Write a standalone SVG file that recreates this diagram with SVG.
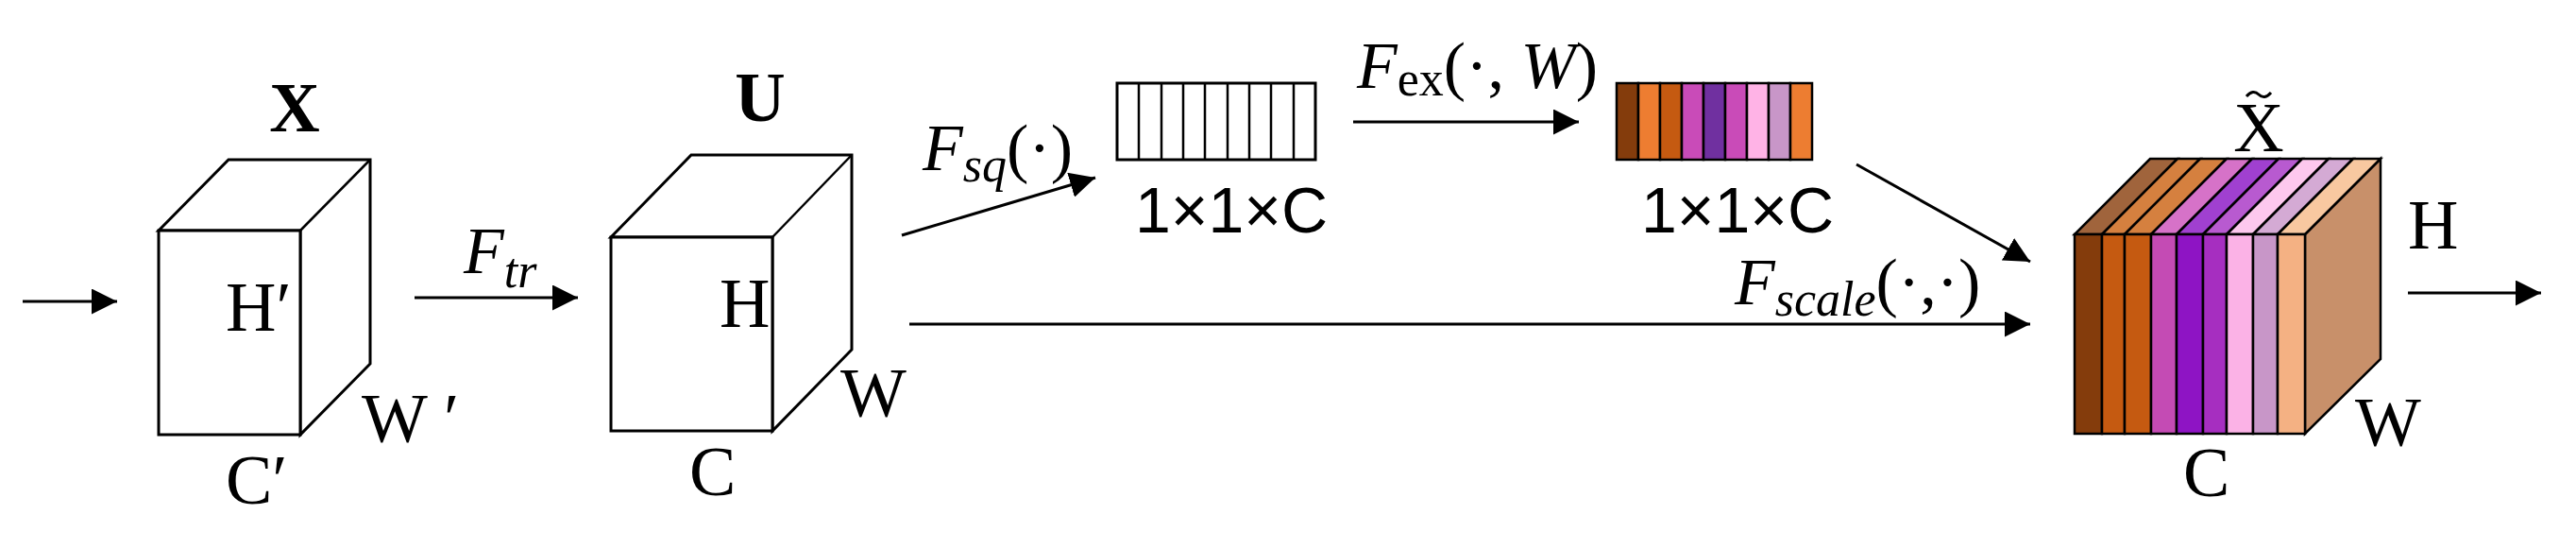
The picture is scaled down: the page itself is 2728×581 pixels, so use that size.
<svg xmlns="http://www.w3.org/2000/svg" width="2728" height="581" viewBox="0 0 2728 581">
<style>
.e{fill:#fff;stroke:#000;stroke-width:3}
.c{stroke:#000;stroke-width:3;fill:none}
.s{stroke:#000;stroke-width:2.5}
.t{font-family:"Liberation Serif",serif;font-size:74px;fill:#000}
.m{font-family:"Liberation Serif",serif;font-style:italic;fill:#000}
.n{font-family:"Liberation Sans",sans-serif;font-size:68px;fill:#000}
</style>
<defs>
<marker id="ah" viewBox="0 0 10 10" refX="10" refY="5" markerWidth="9" markerHeight="9" orient="auto"><path d="M0,0L10,5L0,10z"/></marker>
</defs>
<g id="connectors" class="c">
<line x1="24" y1="319" x2="124" y2="319" marker-end="url(#ah)"/>
<line x1="439" y1="315" x2="612" y2="315" marker-end="url(#ah)"/>
<line x1="955" y1="249" x2="1160" y2="188" marker-end="url(#ah)"/>
<line x1="1433" y1="129" x2="1672" y2="129" marker-end="url(#ah)"/>
<line x1="1966" y1="174" x2="2150" y2="277" marker-end="url(#ah)"/>
<line x1="963" y1="343" x2="2150" y2="343" marker-end="url(#ah)"/>
<line x1="2550" y1="310" x2="2691" y2="310" marker-end="url(#ah)"/>
</g>
<g id="labels">
<text class="m" x="491" y="289" font-size="70">F<tspan font-size="52" dy="15">tr</tspan></text>
<text class="m" x="977" y="180" font-size="70">F<tspan font-size="52" dy="12">sq</tspan><tspan font-style="normal" dy="-12">(·)</tspan></text>
<text class="m" x="1437" y="93" font-size="70">F<tspan font-style="normal" font-size="52" dy="8">ex</tspan><tspan font-style="normal" dy="-8">(·, </tspan>W<tspan font-style="normal">)</tspan></text>
<text class="m" x="1837" y="322" font-size="70">F<tspan font-size="52" dy="12">scale</tspan><tspan font-style="normal" dy="-12">(·,·)</tspan></text>
</g>
<g id="nodeX">
<polygon class="e" points="168,244 242,169 392,169 392,385 318,460 318,244"/>
<line class="s" x1="318" y1="244" x2="392" y2="169"/>
<rect class="e" x="168" y="244" width="150" height="216"/>
<text class="t" x="312" y="139" text-anchor="middle" font-weight="bold" font-size="62">X</text>
<text class="t" x="239" y="350">H′</text>
<text class="t" x="383" y="468">W ′</text>
<text class="t" x="239" y="533">C′</text>
</g>
<g id="nodeU">
<polygon class="e" points="647,251 732,164 902,164 902,370 818,456 818,251"/>
<line class="s" x1="818" y1="251" x2="902" y2="164"/>
<rect class="e" x="647" y="251" width="171" height="205"/>
<text class="t" x="805" y="128" text-anchor="middle" font-weight="bold" font-size="62">U</text>
<text class="t" x="762" y="346">H</text>
<text class="t" x="890" y="441">W</text>
<text class="t" x="730" y="524">C</text>
</g>
<g id="squeeze">
<rect class="e" x="1183" y="88" width="210" height="81"/>
<g class="s">
<line x1="1206" y1="88" x2="1206" y2="169"/><line x1="1230" y1="88" x2="1230" y2="169"/><line x1="1253" y1="88" x2="1253" y2="169"/><line x1="1276" y1="88" x2="1276" y2="169"/><line x1="1300" y1="88" x2="1300" y2="169"/><line x1="1323" y1="88" x2="1323" y2="169"/><line x1="1346" y1="88" x2="1346" y2="169"/><line x1="1370" y1="88" x2="1370" y2="169"/>
</g>
<text class="n" x="1202" y="246">1×1×C</text>
</g>
<g id="excite" stroke="#000" stroke-width="2.5">
<rect x="1712" y="88" width="23" height="81" fill="#843c0c"/>
<rect x="1735" y="88" width="23" height="81" fill="#ed7d31"/>
<rect x="1758" y="88" width="23" height="81" fill="#c55a11"/>
<rect x="1781" y="88" width="23" height="81" fill="#c94bb8"/>
<rect x="1804" y="88" width="23" height="81" fill="#7030a0"/>
<rect x="1827" y="88" width="23" height="81" fill="#c94bb8"/>
<rect x="1850" y="88" width="23" height="81" fill="#ffb3e6"/>
<rect x="1873" y="88" width="23" height="81" fill="#c896c8"/>
<rect x="1896" y="88" width="23" height="81" fill="#ed7d31"/>
<text class="n" x="1738" y="246" stroke="none">1×1×C</text>
</g>
<g id="nodeXt" stroke="#000" stroke-width="2.5">
<polygon points="2441,248 2521,168 2521,380 2441,459" fill="#c8906a"/>
<polygon points="2197,248 2226,248 2306,168 2277,168" fill="#a0643c"/>
<polygon points="2226,248 2250,248 2330,168 2306,168" fill="#d5803f"/>
<polygon points="2250,248 2278,248 2358,168 2330,168" fill="#d5803f"/>
<polygon points="2278,248 2305,248 2385,168 2358,168" fill="#d672c8"/>
<polygon points="2305,248 2333,248 2413,168 2385,168" fill="#a040d0"/>
<polygon points="2333,248 2358,248 2438,168 2413,168" fill="#b85ad0"/>
<polygon points="2358,248 2386,248 2466,168 2438,168" fill="#fdc8ee"/>
<polygon points="2386,248 2412,248 2492,168 2466,168" fill="#d4aad4"/>
<polygon points="2412,248 2441,248 2521,168 2492,168" fill="#f8c8a0"/>
<rect x="2197" y="248" width="29" height="211" fill="#843c0c"/>
<rect x="2226" y="248" width="24" height="211" fill="#c55a11"/>
<rect x="2250" y="248" width="28" height="211" fill="#c55a11"/>
<rect x="2278" y="248" width="27" height="211" fill="#c44bb4"/>
<rect x="2305" y="248" width="28" height="211" fill="#8e14c4"/>
<rect x="2333" y="248" width="25" height="211" fill="#a62ec0"/>
<rect x="2358" y="248" width="28" height="211" fill="#fbb2e6"/>
<rect x="2386" y="248" width="26" height="211" fill="#c896c8"/>
<rect x="2412" y="248" width="29" height="211" fill="#f4b183"/>
<path d="M2379,102 q7,-8 13,-2 t13,-2" fill="none" stroke-width="3"/>
<g stroke="none">
<text class="t" x="2392" y="160" text-anchor="middle" font-size="50">X</text>
<text class="t" x="2550" y="263">H</text>
<text class="t" x="2494" y="472">W</text>
<text class="t" x="2312" y="525">C</text>
</g>
</g>
</svg>
